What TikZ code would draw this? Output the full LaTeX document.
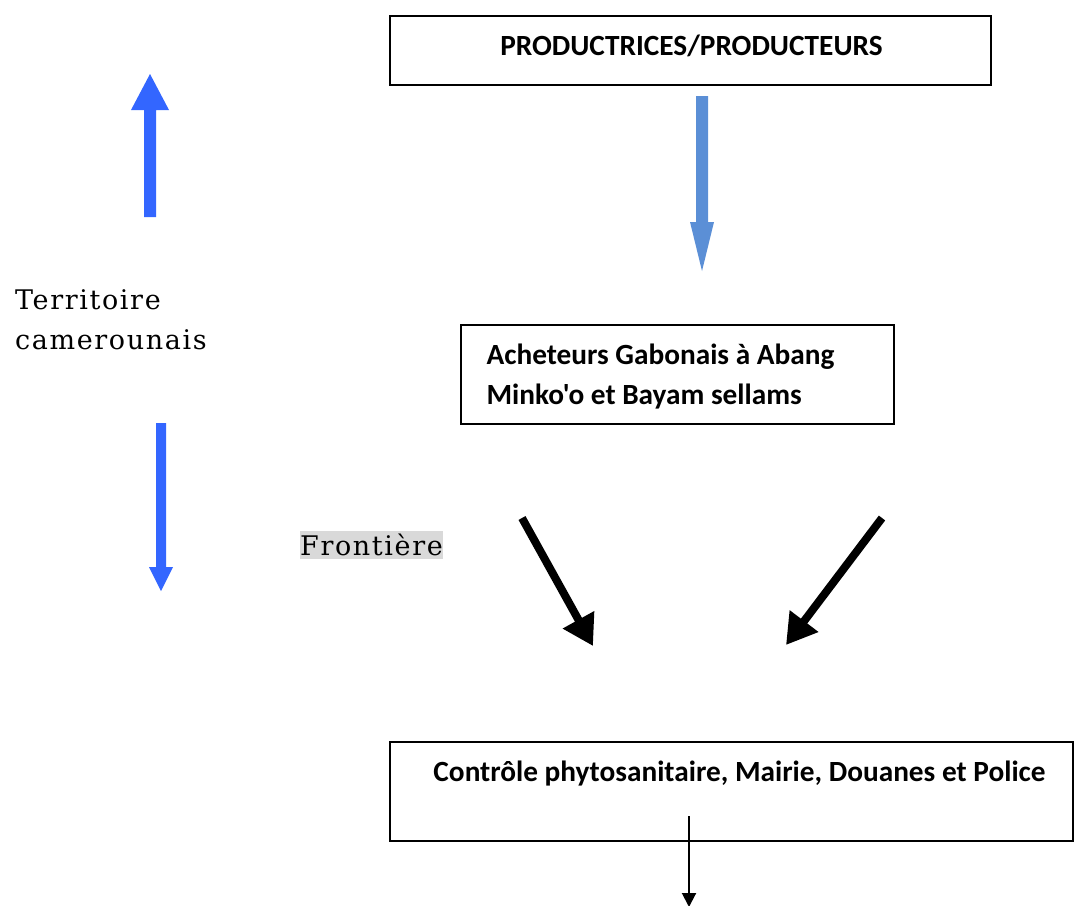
\documentclass[tikz,border=0pt]{standalone}
\usepackage{fontspec}
\setmainfont{DejaVu Serif}[LetterSpace=6]
\newfontfamily\boxfont{Carlito}
\usetikzlibrary{arrows.meta}
\definecolor{bblue}{HTML}{3366FF}
\definecolor{lblue}{HTML}{5B8FD6}
\definecolor{fgray}{HTML}{D9D9D9}
\tikzset{
  box/.style={draw=black, line width=2pt, inner sep=0pt},
  boxtext/.style={font=\boxfont\bfseries\fontsize{29.3}{40}\selectfont},
  sertext/.style={font=\fontsize{27}{40}\selectfont, inner sep=0pt},
  blackarrow/.style={line width=8pt, -{Triangle[length=30pt,width=34pt]}},
  thinarrow/.style={line width=2pt, -{Triangle[length=14pt,width=14pt]}},
}
\begin{document}
\begin{tikzpicture}[x=1pt,y=-1pt]
\useasboundingbox (0,0) rectangle (1075,905);
% boxes
\node[box, minimum width=601pt, minimum height=69pt] (prod) at (690.5,50.5) {};
\node[boxtext] (prodt) at (691.5,46) {PRODUCTRICES/PRODUCTEURS};
\node[box, minimum width=433pt, minimum height=99pt] (ach) at (677.5,374.5) {};
\node[boxtext, anchor=west, align=left] (acht) at (483,377) {Acheteurs Gabonais à Abang\\Minko'o et Bayam sellams};
\node[box, minimum width=683pt, minimum height=99pt] (ctrl) at (731.5,791.5) {};
\node[boxtext] (ctrlt) at (739.5,774) {Contrôle phytosanitaire, Mairie, Douanes et Police};
% texts
\node[sertext, anchor=west, align=left] (terr) at (15,320) {Territoire\\camerounais};
\node[sertext, anchor=west, fill=fgray, inner ysep=3pt] (front) at (300,545) {Frontière};
% blue arrows
\fill[bblue] (144,217) -- (156,217) -- (156,110) -- (169,110) -- (150,74) -- (131,110) -- (144,110) -- cycle;
\fill[lblue] (696,96) -- (708,96) -- (708,222) -- (714,222) -- (702,271) -- (690,222) -- (696,222) -- cycle;
\fill[bblue] (156,423) -- (166,423) -- (166,567) -- (173,567) -- (161,591) -- (149,567) -- (156,567) -- cycle;
% black arrows
\coordinate (a1s) at (522,518);
\coordinate (a1e) at (593,646);
\coordinate (a2s) at (882,518);
\coordinate (a2e) at (786,645);
\draw[blackarrow] (a1s) -- (a1e);
\draw[blackarrow] (a2s) -- (a2e);
% thin arrow
\coordinate (tend) at (689,907);
\draw[thinarrow] (689,816) -- (tend);
\end{tikzpicture}
\end{document}
